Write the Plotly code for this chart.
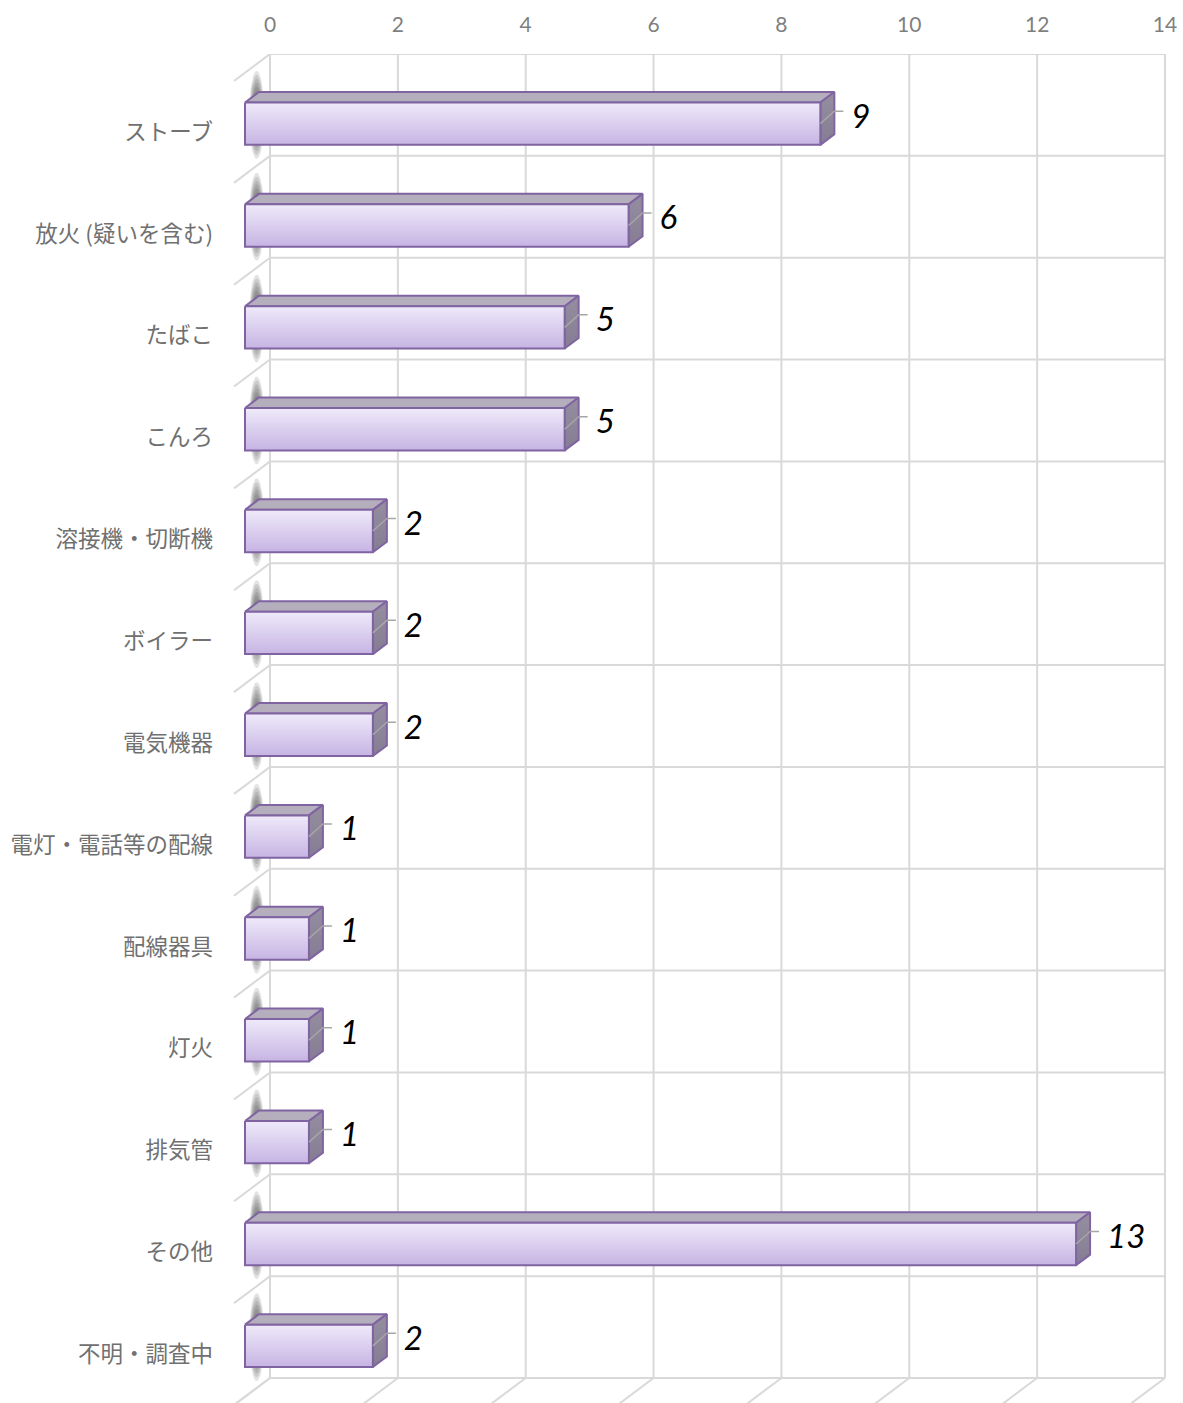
import numpy as np
import plotly.graph_objects as go

# ---------------- data ----------------
categories = ["ストーブ", "放火 (疑いを含む)", "たばこ", "こんろ", "溶接機・切断機", "ボイラー",
              "電気機器", "電灯・電話等の配線", "配線器具", "灯火", "排気管", "その他", "不明・調査中"]
values = [9, 6, 5, 5, 2, 2, 2, 1, 1, 1, 1, 13, 2]
x_ticks = [0, 2, 4, 6, 8, 10, 12, 14]

# ---------------- layout geometry (styling) ----------------
W, H = 1183, 1403
WALL_L, WALL_R, WALL_T, WALL_B = 270, 1165, 54, 1378   # back wall in pixels
ML, MR, MT, MB = 226, 6, 54, 0                          # plotting area
XMAX = 14
N = len(categories)
PX_X = (WALL_R - WALL_L) / XMAX
PX_Y = (WALL_B - WALL_T) / N
X_LO = (ML - WALL_L) / PX_X
X_HI = (W - MR - WALL_L) / PX_X
Y_LO = -0.5
Y_HI = -0.5 + (H - MB - WALL_T) / PX_Y
DX = -36 / PX_X          # full depth offset (data units)
DY = 27 / PX_Y
F_FRONT = 25 / 36        # bar front face depth fraction
F_BACK = 11 / 36         # bar back face depth fraction
HALF = 0.208             # half bar thickness (category units)

GRID = "#d9d9d9"
EDGE = "#8064a2"


def pt(x, y, f):
    return x + f * DX, y + f * DY


fig = go.Figure()

# back wall grid + wall / floor depth edges
wx, wy = [], []
for t in x_ticks:
    wx += [t, t, None]
    wy += [-0.5, N - 0.5, None]
for b in np.arange(-0.5, N, 1.0):
    wx += [0, XMAX, None]
    wy += [b, b, None]
    x1, y1 = pt(0, b, 1)
    wx += [0, x1, None]
    wy += [b, y1, None]
for t in x_ticks:
    x1, y1 = pt(t, N - 0.5, 1.2)
    wx += [t, x1, None]
    wy += [N - 0.5, y1, None]
fig.add_trace(go.Scatter(x=wx, y=wy, mode="lines", line=dict(color=GRID, width=2),
                         hoverinfo="skip", showlegend=False))

# blurred shadows on the left wall (stacked translucent ellipses)
th = np.linspace(0, 2 * np.pi, 60)
for k in np.linspace(1.0, 0.2, 10):
    sx_all, sy_all = [], []
    for i in range(N):
        cx, cy = pt(0, i, 0.37)
        sx_all += list(cx + (7.5 * k / PX_X) * np.cos(th)) + [None]
        sy_all += list(cy + (44 * k / PX_Y) * np.sin(th)) + [None]
    fig.add_trace(go.Scatter(x=sx_all, y=sy_all, mode="lines", fill="toself",
                             fillcolor="rgba(60,60,60,0.14)", line=dict(width=0),
                             hoverinfo="skip", showlegend=False))

# bars
for i, v in enumerate(values):
    top, bot = i - HALF, i + HALF
    a = pt(0, top, F_FRONT); b = pt(0, top, F_BACK)
    c = pt(v, top, F_BACK); d = pt(v, top, F_FRONT)
    e = pt(v, bot, F_BACK); g = pt(v, bot, F_FRONT)
    h = pt(0, bot, F_FRONT)
    # top face
    fig.add_trace(go.Scatter(x=[a[0], b[0], c[0], d[0], a[0]], y=[a[1], b[1], c[1], d[1], a[1]],
                             mode="lines", fill="toself", fillcolor="#b5aebd",
                             line=dict(color=EDGE, width=2),
                             hoverinfo="skip", showlegend=False))
    # right face
    fig.add_trace(go.Scatter(x=[d[0], c[0], e[0], g[0], d[0]], y=[d[1], c[1], e[1], g[1], d[1]],
                             mode="lines", fill="toself",
                             fillgradient=dict(type="vertical",
                                               colorscale=[[0, "#857c93"], [1, "#958ea0"]]),
                             line=dict(color=EDGE, width=2),
                             hoverinfo="skip", showlegend=False))
    # front face
    fig.add_trace(go.Scatter(x=[a[0], d[0], g[0], h[0], a[0]], y=[a[1], d[1], g[1], h[1], a[1]],
                             mode="lines", fill="toself",
                             fillgradient=dict(type="vertical",
                                               colorscale=[[0, "#c6b4e3"], [1, "#efeafa"]]),
                             line=dict(color=EDGE, width=2),
                             hoverinfo="skip", showlegend=False))
    # leader line
    m1 = pt(v, i, F_FRONT)
    m2 = pt(v, i - 0.02, F_BACK)
    m3 = (m2[0] + 9 / PX_X, m2[1])
    fig.add_trace(go.Scatter(x=[m1[0], m2[0], m3[0]], y=[m1[1], m2[1], m3[1]], mode="lines",
                             line=dict(color="#a6a6a6", width=1.5),
                             hoverinfo="skip", showlegend=False))
    # value label
    fig.add_trace(go.Scatter(x=[m3[0] + 8 / PX_X], y=[m3[1] + 0.08], mode="text",
                             text=[str(v)], textposition="middle right",
                             textfont=dict(family="Lato", size=33, color="#000000", style="italic"),
                             hoverinfo="skip", showlegend=False))

fig.update_layout(
    width=W, height=H,
    margin=dict(l=ML, r=MR, t=MT, b=MB, autoexpand=False),
    plot_bgcolor="white", paper_bgcolor="white",
    showlegend=False,
    xaxis=dict(range=[X_LO, X_HI], side="top", tickvals=x_ticks, ticks="",
               tickfont=dict(family="Lato", size=21, color="#7f7f7f"),
               showgrid=False, zeroline=False, showline=False,
               ticklabelstandoff=17, automargin=False, fixedrange=True),
    yaxis=dict(range=[Y_HI, Y_LO], tickvals=[i + DY for i in range(N)], ticktext=categories,
               ticks="", tickfont=dict(family="Noto Sans CJK JP", size=22.5, color="#707070"),
               showgrid=False, zeroline=False, showline=False,
               ticklabelstandoff=12, automargin=False, fixedrange=True),
)

fig.write_html("out.html", post_script="document.body.style.margin='0';",
               config={"displayModeBar": False})
